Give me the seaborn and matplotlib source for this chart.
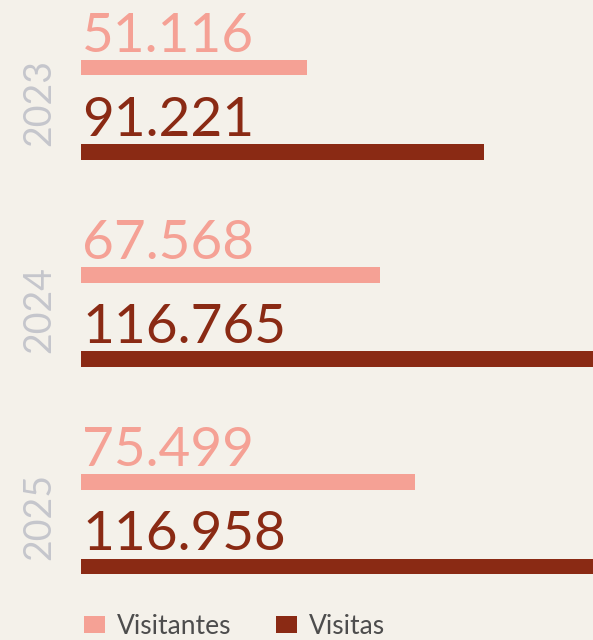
import pandas as pd
import seaborn as sns
import matplotlib.pyplot as plt
import matplotlib.transforms as mtransforms
from matplotlib.patches import Patch

years = ["2023", "2024", "2025"]
visitantes = [51116, 67568, 75499]
visitas = [91221, 116765, 116958]
series = ["Visitantes", "Visitas"]
colors = ["#F5A195", "#8A2A14"]

data = pd.DataFrame({
    "year": years * 2,
    "serie": [series[0]] * 3 + [series[1]] * 3,
    "value": visitantes + visitas,
})

bg = "#F4F1EA"
sns.set_style("white")
plt.rcParams["font.family"] = ["Lato", "DejaVu Sans"]

fig = plt.figure(figsize=(5.93, 6.4), dpi=100, facecolor=bg)
ax = fig.add_axes([81 / 593, 0, 1 - 81 / 593, 1])
ax.set_facecolor(bg)

sns.barplot(data=data, x="value", y="year", hue="serie", order=years,
            hue_order=series, palette=colors, width=0.812, gap=0.82,
            dodge=True, legend=False, ax=ax, saturation=1, linewidth=0)

ax.set_xlim(0, 115800)
ax.set_ylim(2.560, -0.531)

# value labels above each bar
for cont, col in zip(ax.containers, colors):
    for bar in cont:
        v = bar.get_width()
        ax.annotate(f"{int(v):,}".replace(",", "."), xy=(0, bar.get_y()),
                    xytext=(1, 6), textcoords="offset points",
                    ha="left", va="baseline", fontsize=39.5, color=col)

# year labels, rotated, left of the bars
ax.set_yticks([])
trans = mtransforms.blended_transform_factory(fig.transFigure, ax.transData)
for i, y in enumerate(years):
    ax.text(39 / 593, i - 0.035, y, rotation=90, ha="center", va="center",
            fontsize=27, color="#C5C6CC", transform=trans)

ax.set_xlabel("")
ax.set_ylabel("")
ax.set_xticks([])
sns.despine(ax=ax, left=True, bottom=True)

handles = [Patch(facecolor=c, edgecolor="none") for c in colors]
fig.legend(handles, series, loc="lower left", bbox_to_anchor=(60 / 593, -0.035),
           ncol=2, frameon=False, fontsize=19, labelcolor="#4D4D4D",
           handlelength=0.8, handleheight=0.65, handletextpad=0.45,
           columnspacing=1.7)

fig.savefig("out.png", dpi=100, facecolor=bg)
